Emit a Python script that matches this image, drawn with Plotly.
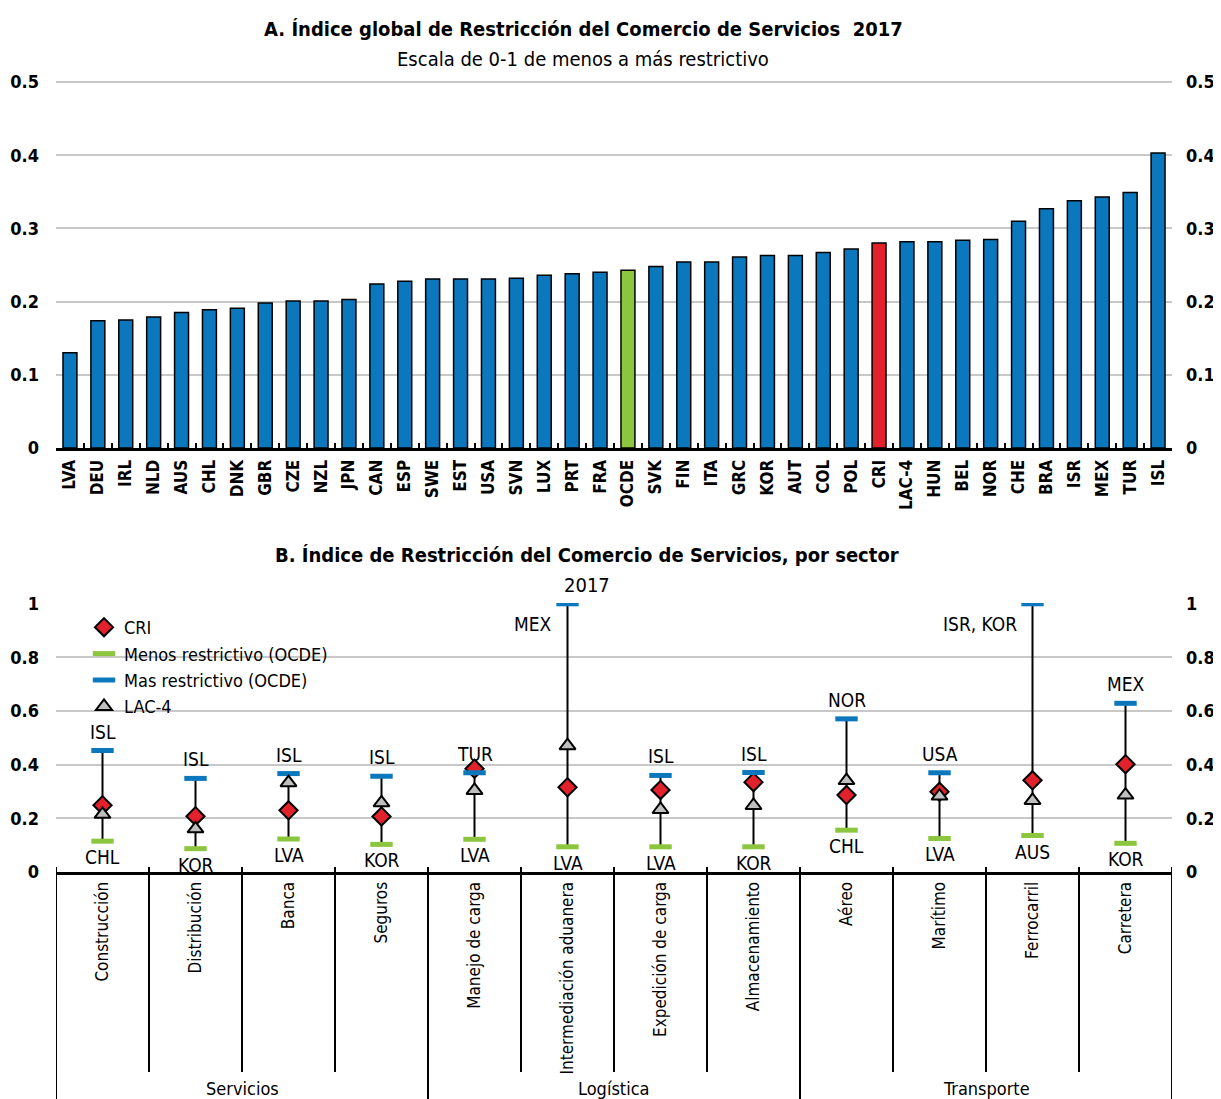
import plotly.graph_objects as go

# ---------------- Data: panel A ----------------
countries = ["LVA", "DEU", "IRL", "NLD", "AUS", "CHL", "DNK", "GBR", "CZE", "NZL",
             "JPN", "CAN", "ESP", "SWE", "EST", "USA", "SVN", "LUX", "PRT", "FRA",
             "OCDE", "SVK", "FIN", "ITA", "GRC", "KOR", "AUT", "COL", "POL", "CRI",
             "LAC-4", "HUN", "BEL", "NOR", "CHE", "BRA", "ISR", "MEX", "TUR", "ISL"]
stri_2017 = [0.130, 0.174, 0.175, 0.179, 0.185, 0.189, 0.191, 0.198, 0.201, 0.201,
             0.203, 0.224, 0.228, 0.231, 0.231, 0.231, 0.232, 0.236, 0.238, 0.240,
             0.243, 0.248, 0.254, 0.254, 0.261, 0.263, 0.263, 0.267, 0.272, 0.280,
             0.282, 0.282, 0.284, 0.285, 0.310, 0.327, 0.338, 0.343, 0.349, 0.403]
a_ticks = [0, 0.1, 0.2, 0.3, 0.4, 0.5]
a_ticktext = ["0", "0.1", "0.2", "0.3", "0.4", "0.5"]

# ---------------- Data: panel B ----------------
sectors = ["Construcción", "Distribución", "Banca", "Seguros", "Manejo de carga",
           "Intermediación aduanera", "Expedición de carga", "Almacenamiento",
           "Aéreo", "Marítimo", "Ferrocarril", "Carretera"]
groups = ["Servicios", "Logística", "Transporte"]
group_sizes = [4, 4, 4]
cri = [0.249, 0.208, 0.230, 0.207, 0.385, 0.316, 0.306, 0.335, 0.287, 0.299, 0.342, 0.402]
least = [0.115, 0.087, 0.123, 0.103, 0.122, 0.094, 0.094, 0.094, 0.156, 0.125, 0.136, 0.107]
most = [0.453, 0.349, 0.367, 0.357, 0.370, 1.0, 0.360, 0.371, 0.571, 0.370, 1.0, 0.629]
lac4 = [0.215, 0.161, 0.333, 0.258, 0.304, 0.471, 0.233, 0.248, 0.341, 0.283, 0.267, 0.287]
most_labels = ["ISL", "ISL", "ISL", "ISL", "TUR", "MEX", "ISL", "ISL", "NOR", "USA", "ISR, KOR", "MEX"]
least_labels = ["CHL", "KOR", "LVA", "KOR", "LVA", "LVA", "LVA", "KOR", "CHL", "LVA", "AUS", "KOR"]
b_ticks = [0, 0.2, 0.4, 0.6, 0.8, 1]
b_ticktext = ["0", "0.2", "0.4", "0.6", "0.8", "1"]

# ---------------- Styling ----------------
PAGE_W, PAGE_H = 1221, 1099
OFF = 8  # default body margin of the html page
W, H = PAGE_W - OFF, PAGE_H - OFF
FONT = "DejaVu Sans Condensed, Liberation Sans Narrow, Arial Narrow, sans-serif"
BLUE = "#0B78BE"
GREEN = "#8CC63F"
RED = "#E1212B"
GRID = "#C8C8C8"

# Geometry in page pixels
L, R = 56, 1172
A_top, A_bot = 81, 448
B_top, B_bot = 603, 872


def fy(p):
    return 1 - (p - OFF) / H


def px_x(p):
    return (p - L) / (R - L)


bar_colors = [GREEN if c == "OCDE" else RED if c == "CRI" else BLUE for c in countries]

fig = go.Figure()

# Panel A bars
fig.add_trace(go.Bar(
    x=countries, y=stri_2017, width=0.5,
    marker=dict(color=bar_colors, line=dict(color="black", width=1.5)),
    xaxis="x", yaxis="y", showlegend=False, hoverinfo="x+y"))
fig.add_trace(go.Scatter(
    x=[countries[0]], y=[0], xaxis="x", yaxis="y2", mode="markers",
    marker=dict(opacity=0), showlegend=False, hoverinfo="skip"))

# Panel B range lines
seg_x, seg_y = [], []
for s, lo, hi in zip(sectors, least, most):
    seg_x += [s, s, None]
    seg_y += [lo, hi, None]
fig.add_trace(go.Scatter(
    x=seg_x, y=seg_y, mode="lines", line=dict(color="black", width=2),
    xaxis="x3", yaxis="y3", showlegend=False, hoverinfo="skip"))

fig.add_trace(go.Scatter(
    x=sectors, y=cri, mode="markers", name="CRI",
    marker=dict(symbol="diamond", size=14, color=RED, line=dict(color="black", width=2)),
    xaxis="x3", yaxis="y3"))
fig.add_trace(go.Scatter(
    x=sectors, y=least, mode="markers", name="Menos restrictivo (OCDE)",
    marker=dict(symbol="line-ew-open", size=16, color=GREEN, line=dict(color=GREEN, width=5)),
    xaxis="x3", yaxis="y3"))
fig.add_trace(go.Scatter(
    x=sectors, y=most, mode="markers", name="Mas restrictivo (OCDE)",
    marker=dict(symbol="line-ew-open", size=16, color=BLUE, line=dict(color=BLUE, width=5)),
    xaxis="x3", yaxis="y3"))
fig.add_trace(go.Scatter(
    x=sectors, y=lac4, mode="markers", name="LAC-4",
    marker=dict(symbol="triangle-up", size=14, color="#BFBFBF", line=dict(color="black", width=2)),
    xaxis="x3", yaxis="y3"))
fig.add_trace(go.Scatter(
    x=[sectors[0]], y=[0], xaxis="x3", yaxis="y4", mode="markers",
    marker=dict(opacity=0), showlegend=False, hoverinfo="skip"))

tickfont = dict(family=FONT, size=18, color="black", weight="bold")
xtickfont_a = dict(family=FONT, size=17, color="black", weight="bold")
xtickfont_b = dict(family=FONT, size=17, color="black")

fig.update_layout(
    width=W, height=H,
    margin=dict(l=L - OFF, r=W - (R - OFF), t=0, b=0, autoexpand=False),
    paper_bgcolor="white", plot_bgcolor="white",
    font=dict(family=FONT, color="black"),
    xaxis=dict(domain=[0, 1], anchor="y", type="category", automargin=False,
               categoryorder="array", categoryarray=countries,
               range=[-0.5, len(countries) - 0.5],
               tickangle=-90, tickfont=xtickfont_a,
               showline=True, linecolor="black", linewidth=3,
               ticks="inside", tickson="boundaries", ticklen=5, tickwidth=2, tickcolor="black",
               showgrid=False, ticklabelstandoff=2),
    yaxis=dict(domain=[fy(A_bot), fy(A_top)], anchor="x", range=[0, 0.5015], automargin=False,
               tickvals=a_ticks, ticktext=a_ticktext, tickfont=tickfont,
               showgrid=True, gridcolor=GRID, gridwidth=2, zeroline=False,
               showline=False, ticks="", ticklabelstandoff=16),
    yaxis2=dict(overlaying="y", side="right", anchor="x", range=[0, 0.5015], automargin=False,
                tickvals=a_ticks, ticktext=a_ticktext, tickfont=tickfont,
                showgrid=False, zeroline=False, showline=False, ticks="",
                ticklabelstandoff=13),
    xaxis3=dict(domain=[0, 1], anchor="y3", type="category", automargin=False,
                categoryorder="array", categoryarray=sectors,
                range=[-0.5, len(sectors) - 0.5],
                tickangle=-90, tickfont=xtickfont_b,
                showline=True, linecolor="black", linewidth=3, ticks="",
                showgrid=False, ticklabelstandoff=0),
    yaxis3=dict(domain=[fy(B_bot), fy(B_top)], anchor="x3", range=[0, 1.003], automargin=False,
                tickvals=b_ticks, ticktext=b_ticktext, tickfont=tickfont,
                showgrid=True, gridcolor=GRID, gridwidth=2, zeroline=False,
                showline=False, ticks="", ticklabelstandoff=16),
    yaxis4=dict(overlaying="y3", side="right", anchor="x3", range=[0, 1.003], automargin=False,
                tickvals=b_ticks, ticktext=b_ticktext, tickfont=tickfont,
                showgrid=False, zeroline=False, showline=False, ticks="",
                ticklabelstandoff=13),
    legend=dict(x=px_x(84), y=fy(609), xanchor="left", yanchor="top",
                xref="paper", yref="container",
                bgcolor="rgba(0,0,0,0)", font=dict(family=FONT, size=18, color="black"),
                tracegroupgap=0, itemwidth=30),
)

annotations = [
    dict(text="<b>A. Índice global de Restricción del Comercio de Servicios  2017</b>",
         x=px_x(583), y=fy(29), xref="paper", yref="paper", showarrow=False,
         yanchor="middle", font=dict(family=FONT, size=20, color="black")),
    dict(text="Escala de 0-1 de menos a más restrictivo",
         x=px_x(583), y=fy(59), xref="paper", yref="paper", showarrow=False,
         yanchor="middle", font=dict(family=FONT, size=20, color="black")),
    dict(text="<b>B. Índice de Restricción del Comercio de Servicios, por sector</b>",
         x=px_x(587), y=fy(555), xref="paper", yref="paper", showarrow=False,
         yanchor="middle", font=dict(family=FONT, size=20, color="black")),
    dict(text="2017",
         x=px_x(587), y=fy(585), xref="paper", yref="paper", showarrow=False,
         yanchor="middle", font=dict(family=FONT, size=20, color="black")),
]

lab_font = dict(family=FONT, size=19, color="black")
for s, hi, lab in zip(sectors, most, most_labels):
    if hi >= 0.99:
        annotations.append(dict(text=lab, x=s, y=hi, xref="x3", yref="y3", showarrow=False,
                                xanchor="right", yanchor="middle", xshift=-14, yshift=-20,
                                font=lab_font))
    else:
        annotations.append(dict(text=lab, x=s, y=hi, xref="x3", yref="y3", showarrow=False,
                                yanchor="middle", yshift=19, font=lab_font))
for s, lo, lab in zip(sectors, least, least_labels):
    annotations.append(dict(text=lab, x=s, y=lo, xref="x3", yref="y3", showarrow=False,
                            yanchor="middle", yshift=-16, font=lab_font))

# group labels and separators
shapes = []
start = 0
for g, n in zip(groups, group_sizes):
    center = start + (n - 1) / 2
    annotations.append(dict(text=g, x=center, y=fy(1088), xref="x3", yref="paper",
                            showarrow=False, yanchor="middle",
                            font=dict(family=FONT, size=18, color="black")))
    start += n

boundaries = {-0.5}
acc = 0
for n in group_sizes:
    acc += n
    boundaries.add(acc - 0.5)
for i in range(len(sectors) + 1):
    xb = i - 0.5
    y_end = 0 if xb in boundaries else fy(1072)
    shapes.append(dict(type="line", xref="x3", yref="paper", x0=xb, x1=xb,
                       y0=fy(B_bot - 5), y1=y_end, line=dict(color="black", width=2)))

fig.update_layout(annotations=annotations, shapes=shapes)

fig.write_html("out.html")
